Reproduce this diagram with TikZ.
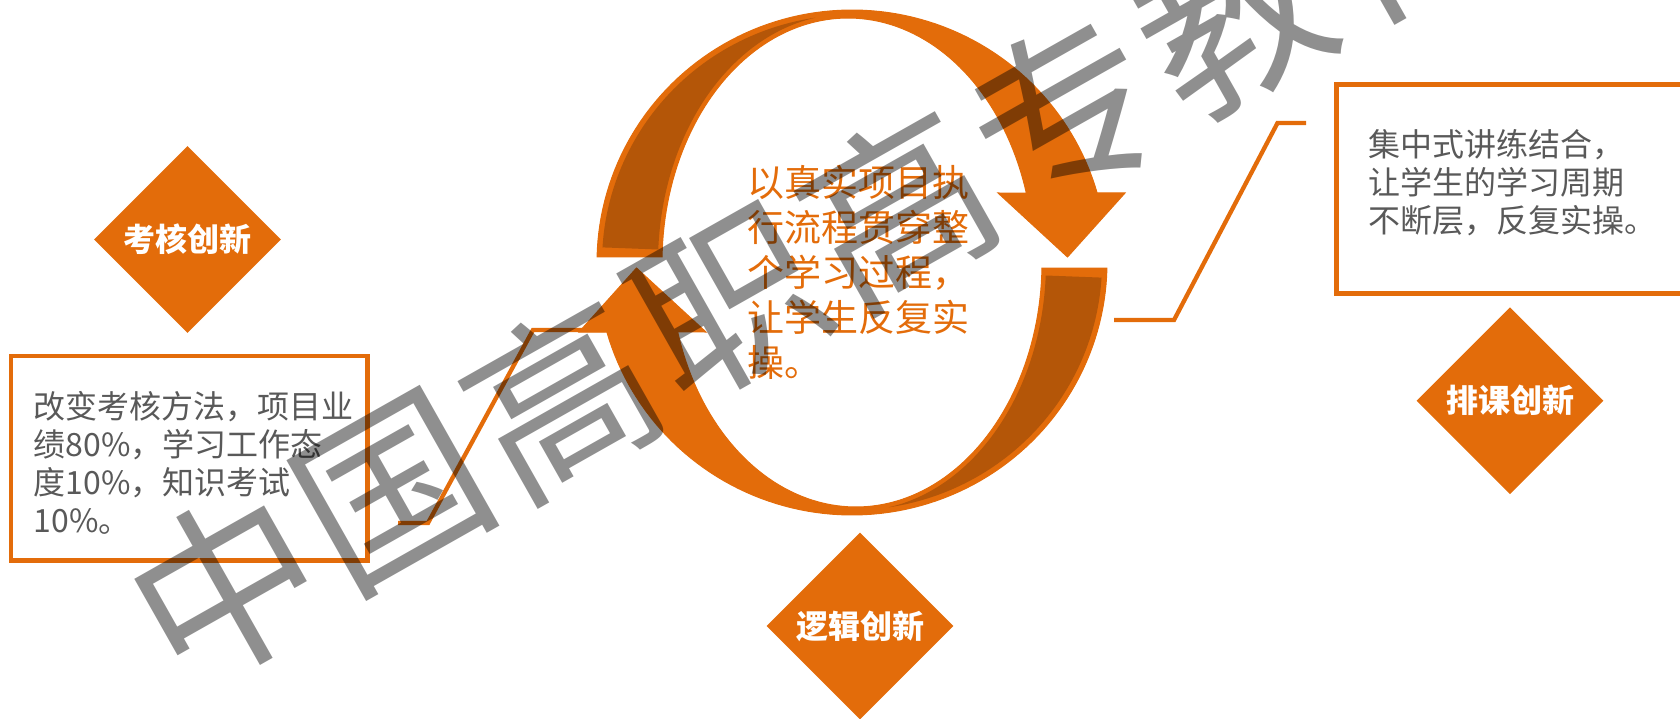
\documentclass[tikz,border=0pt]{standalone}
\usepackage{fontspec}
\setmainfont{Noto Sans CJK SC}
\usetikzlibrary{shapes.geometric}
\definecolor{orng}{HTML}{E36C0A}
\definecolor{darkor}{HTML}{B45608}
\definecolor{txtgray}{HTML}{595959}
\begin{document}
\begin{tikzpicture}[x=1pt,y=-1pt,
  dia/.style={diamond, fill=orng, minimum width=187, minimum height=187, inner sep=0, text=white, font=\bfseries\fontsize{32}{38}\selectfont},
  boxline/.style={draw=orng, line width=4.6},
  conn/.style={draw=orng, line width=4.3},
  bodytxt/.style={anchor=north west, inner sep=0, align=left, text=txtgray, font=\fontsize{32}{38.3}\selectfont},
  midtxt/.style={anchor=north west, inner sep=0, align=left, text=orng, font=\fontsize{37}{45}\selectfont},
  wm/.style={text=black, text opacity=0.44, font=\fontsize{185}{185}\selectfont, inner sep=0, rotate=29.5},
  ringfill/.style={fill=orng, draw=orng, line width=1},
  ringdark/.style={fill=darkor}]
\useasboundingbox (0,0) rectangle (1680,719);
\clip (0,0) rectangle (1680,719);

% boxes
\draw[boxline] (10.9,355.9) rectangle (367.3,560.2);
\draw[boxline] (1336.3,84.8) rectangle (1700,293.4);

% connectors
\coordinate (L0) at (398,523);
\coordinate (L1) at (428,523);
\coordinate (L2) at (533,330);
\coordinate (L3) at (605,330);
\draw[conn] (L0) -- (L1) -- (L2) -- (L3);
\coordinate (R0) at (1114,320);
\coordinate (R1) at (1174,320);
\coordinate (R2) at (1277.5,123);
\coordinate (R3) at (1306,123);
\draw[conn] (R0) -- (R1) -- (R2) -- (R3);

% circular arrows
\foreach \ang in {0,180}{
  \begin{scope}[rotate around={\ang:(852,262.5)}]
    \path[ringfill] plot[domain=178.75:15.98, samples=90] ({852+255*cos(\x)},{262.5-252.5*sin(\x)})
      -- (1125,193) -- (1067.5,257) -- (998,193)
      -- plot[domain=16.51:178.71, samples=90] ({848+186*cos(\x)},{262.5-244.5*sin(\x)}) -- cycle;
    \path[ringdark] plot[domain=176.5:98.5, samples=70] ({852+250*cos(\x)},{262.5-247.5*sin(\x)})
      -- plot[domain=100:177, samples=70] ({848+190*cos(\x)},{262.5-248.5*sin(\x)}) -- cycle;
  \end{scope}
}

% diamonds
\node[dia] (d1) at (187.5,239.5) {考核创新};
\node[dia] (d2) at (1510,400.7) {排课创新};
\node[dia] (d3) at (860,626) {逻辑创新};

% texts
\node[bodytxt] (t1) at (33.3,390.7) {改变考核方法，项目业\\绩80\%，学习工作态\\度10\%，知识考试\\10\%。};
\node[bodytxt] (t2) at (1368,129) {集中式讲练结合，\\让学生的学习周期\\不断层，反复实操。};
\node[midtxt] (t3) at (747,164.5) {以真实项目执\\行流程贯穿整\\个学习过程，\\让学生反复实\\操。};

% watermark
\foreach \c [count=\i from 0] in {中,国,高,职,高,专,教,育}
  \node[wm] (wm\i) at ({225+168*\i},{588-95*\i}) {\c};
\end{tikzpicture}
\end{document}
